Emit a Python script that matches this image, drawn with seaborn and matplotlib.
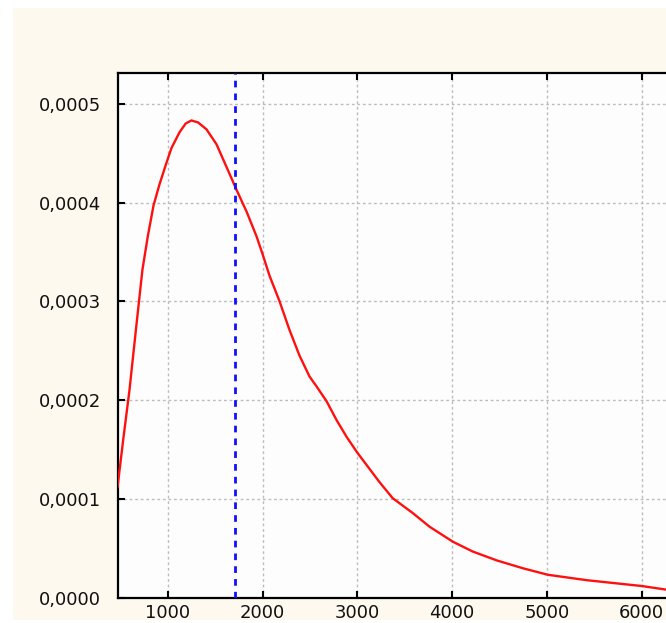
import matplotlib
matplotlib.use("Agg")
import matplotlib.pyplot as plt
from matplotlib.patches import Rectangle
from matplotlib.ticker import FuncFormatter
import seaborn as sns
import pandas as pd

# Density curve sampled along x
x_vals = [470, 530, 596, 665, 733, 790, 850, 912, 986, 1039, 1124, 1190,
          1250, 1320, 1409, 1514, 1620, 1725, 1831, 1936, 2000, 2074, 2180,
          2285, 2391, 2496, 2570, 2676, 2781, 2887, 3000, 3236, 3373, 3584,
          3764, 4007, 4218, 4472, 4750, 5010, 5422, 6003, 6257]
density = [0.000112, 0.000160, 0.000210, 0.000272, 0.000332, 0.000366,
           0.000397, 0.000418, 0.000440, 0.000455, 0.000471, 0.000480,
           0.000483, 0.000481, 0.000474, 0.000459, 0.000436, 0.000413,
           0.000391, 0.000366, 0.000348, 0.000326, 0.000300, 0.000271,
           0.000245, 0.000224, 0.000214, 0.000199, 0.000180, 0.000163,
           0.000147, 0.000117, 0.000101, 0.000086, 0.000072, 0.000057,
           0.000047, 0.000038, 0.000030, 0.0000235, 0.0000180, 0.0000121,
           0.0000085]

# Reference value marked with the vertical dashed line
marker_x = 1710

x_ticks = [1000, 2000, 3000, 4000, 5000, 6000]
y_ticks = [0.0, 0.0001, 0.0002, 0.0003, 0.0004, 0.0005]

df = pd.DataFrame({"x": x_vals, "density": density})

sns.set_style("white")
plt.rcParams["font.family"] = ["DejaVu Sans"]

W, H = 666, 623
fig = plt.figure(figsize=(W / 100, H / 100), dpi=100, facecolor="white")
fig.patches.append(Rectangle((13 / W, 3 / H), 1, 1 - 11 / H,
                             transform=fig.transFigure, facecolor="#fdf9ee",
                             edgecolor="none", zorder=-10))

ax = fig.add_axes([117.5 / W, 1 - 598 / H, 1 - 117.5 / W, (598 - 73) / H])
ax.set_facecolor("#fdfdfd")

sns.lineplot(data=df, x="x", y="density", ax=ax, color="#ff1010",
             linewidth=1.7, zorder=3)
ax.axvline(marker_x, color="#1010ff", linewidth=2.0,
           linestyle=(0, (2.4, 2.2)), zorder=4)

ax.set_xlim(470, 6257)
ax.set_ylim(0, 0.000531)
ax.set_xticks(x_ticks)
ax.set_yticks(y_ticks)
ax.yaxis.set_major_formatter(FuncFormatter(lambda v, p: f"{v:.4f}".replace(".", ",")))
ax.set_xlabel("")
ax.set_ylabel("")

ax.grid(True, color="#bdbdbd", linestyle=(0, (2, 2)), linewidth=1.0)
ax.set_axisbelow(True)

for side in ("left", "bottom", "top"):
    ax.spines[side].set_visible(True)
    ax.spines[side].set_color("black")
    ax.spines[side].set_linewidth(1.6)
ax.spines["right"].set_visible(False)

ax.tick_params(axis="both", which="major", direction="in", length=5,
               width=1.5, color="black", labelsize=13, labelcolor="#111111")
ax.tick_params(axis="x", top=True, bottom=True, pad=4)
ax.tick_params(axis="y", left=True, right=False, pad=12)

fig.savefig("out.png", dpi=100, facecolor=fig.get_facecolor())
